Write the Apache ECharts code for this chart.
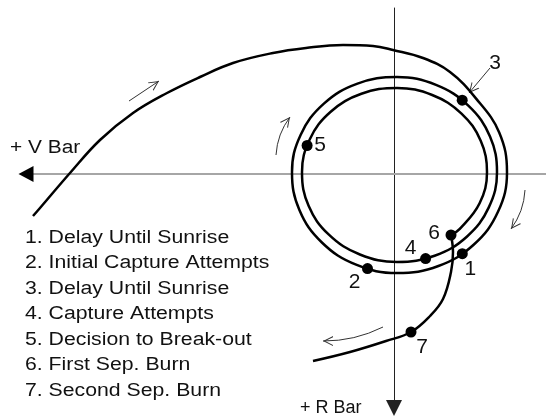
<!DOCTYPE html>
<html><head><meta charset="utf-8">
<script src="https://cdn.jsdelivr.net/npm/echarts@6/dist/echarts.min.js"></script>
<style>html,body{margin:0;padding:0;background:#fff}#c{width:546px;height:418px}</style>
</head><body><div id="c"></div>
<script>
// Diagram units (V-bar horizontal, R-bar vertical), origin at axes crossing
const axisRangeX = [-368, 152];
const axisRangeY = [-234, 166];
const axisNames = ['+ V Bar', '+ R Bar'];
const legendItems = [
  '1. Delay Until Sunrise',
  '2. Initial Capture Attempts',
  '3. Delay Until Sunrise',
  '4. Capture Attempts',
  '5. Decision to Break-out',
  '6. First Sep. Burn',
  '7. Second Sep. Burn'
];
// approach arc, then the capture loops (ends at event 6)
const trajectory = [
  [-361,-42],[-354,-34],[-324,1],[-294,34],[-261,61],[-227,81],[-194,97],[-161,111],[-121,121],[-88,126],
  [-51,129],[-21,128],[-1,124],[29,116],[56,102],
  [81.7,75.9],[105.2,41.6],[113,1.75],[104.1,-37.6],[79.9,-70.5],[44.4,-92],[3,-99],[-37.9,-90.7],
  [-72.1,-68.5],[-94.6,-36],[-102,1.75],[-93.4,39],[-70.4,70.1],[-36.5,90.4],[3,97],[42,89.1],
  [74.6,68.1],[96,37.4],[103,1.75],[94.8,-33.4],[72.8,-62.7],[40.6,-81.8],[3,-88],[-34.1,-80.5],
  [-65.1,-60.7],[-85.4,-31.8],[-92,1.75],[-84.2,34.8],[-63.3,62.3],[-32.6,80.2],[3,86],[38.2,79],
  [67.5,60.4],[86.7,33.2],[93,1.75],[85.6,-29.2],[65.8,-54.9],[57,-61]
];
// separation path after event 6
const breakout = [[57,-61],[59,-78],[57,-98],[49,-125],[36,-142],[17,-158],[-8,-167],[-44,-178],[-81,-187]];
const eventPoints = [[68.3,-79.7],[-26.5,-94.6],[68.2,73.8],[31.6,-84.6],[-86.9,28.5],[57,-61],[17,-158]];
const eventLabels = ['1','2','3','4','5','6','7'];
const labelOffsets = [[8,16],[-13,14],[33,-37],[-15,-10],[13,0],[-17,-2],[11,15]];
// motion-direction arrows: [from, to, curveness]
const motionArrows = [
  [[-265,73],[-235,93],0],
  [[-118,19],[-104,57],0.15],
  [[131,-16],[117,-55],0.15],
  [[-11,-153],[-71,-167],0.12],
  [[96,106],[75,81],0]
];

const CHEVRON = 'path://M0,0L0,0Z M20,0L20,0Z M10,10L15,20L13.9,20L10,12.2L6.1,20L5,20Z';
const FONT = '"Liberation Sans", Arial, sans-serif';

const chart = echarts.init(document.getElementById('c'), null, {renderer:'canvas'});
const textStyle = (t) => ({text: t, font: '18px ' + FONT, fill: '#111', verticalAlign: 'middle', textVerticalAlign: 'middle'});

chart.setOption({
  animation: false,
  backgroundColor: '#fff',
  grid: {left: 26, right: 0, top: 8, bottom: 10, containLabel: false, outerBoundsMode: 'none'},
  xAxis: {
    type: 'value', min: axisRangeX[0], max: axisRangeX[1],
    axisLine: {show: true, onZero: true, lineStyle: {color: '#a6a6a6', width: 2}},
    axisTick: {show: false}, axisLabel: {show: false}, splitLine: {show: false}
  },
  yAxis: {
    type: 'value', min: axisRangeY[0], max: axisRangeY[1],
    axisLine: {show: true, onZero: true, symbol: ['triangle','none'], symbolSize: [16,16], lineStyle: {color: '#222', width: 1}},
    axisTick: {show: false}, axisLabel: {show: false}, splitLine: {show: false}
  },
  graphic: [
    {type: 'text', x: 10, y: 148, scaleX: 1.16, style: textStyle(axisNames[0])},
    {type: 'text', x: 300, y: 408, style: textStyle(axisNames[1])}
  ].concat(legendItems.map((t, i) => ({type: 'text', x: 25, y: 237.7 + 25.5 * i, scaleX: 1.18, style: textStyle(t)}))),
  series: [
    {
      type: 'scatter', data: [[axisRangeX[0], 0]], symbol: 'triangle', symbolSize: [16,15], symbolRotate: 90,
      itemStyle: {color: '#000', opacity: 1}, silent: true, z: 3
    },
    {
      type: 'lines', coordinateSystem: 'cartesian2d', z: 2,
      symbol: ['none', CHEVRON], symbolSize: 20,
      lineStyle: {color: '#333', width: 1, opacity: 1},
      data: motionArrows.map(a => ({coords: [a[0], a[1]], lineStyle: {curveness: a[2]}}))
    },
    {
      type: 'line', data: trajectory, smooth: 0.4, symbol: 'none', clip: false, z: 4,
      lineStyle: {color: '#000', width: 2.5}
    },
    {
      type: 'line', data: breakout, smooth: 0.4, symbol: 'none', clip: false, z: 4,
      lineStyle: {color: '#000', width: 2.5}
    },
    {
      type: 'scatter', z: 5, symbol: 'circle', symbolSize: 11, itemStyle: {color: '#000', opacity: 1},
      data: eventPoints.map((p, i) => ({value: p, label: {offset: labelOffsets[i]}})),
      label: {show: true, position: 'inside', formatter: (p) => eventLabels[p.dataIndex], fontSize: 21, fontFamily: FONT,
        color: '#111', opacity: 1, textBorderWidth: 0, textBorderColor: 'transparent', textShadowBlur: 0}
    }
  ]
});
</script></body></html>
